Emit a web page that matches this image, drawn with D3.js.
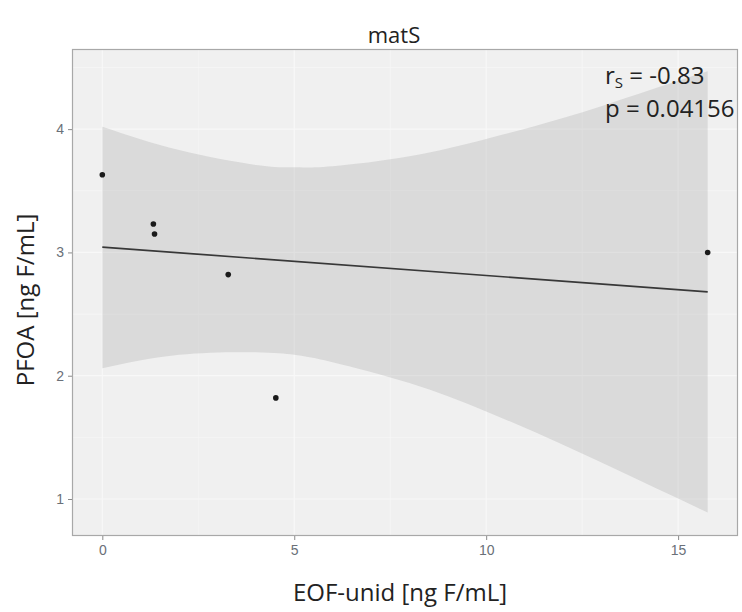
<!DOCTYPE html>
<html>
<head>
<meta charset="utf-8">
<script src="https://cdn.jsdelivr.net/npm/d3@7"></script>
<style>
  html, body { margin: 0; padding: 0; background: #ffffff; }
  svg { display: block; }
</style>
</head>
<body>
<svg id="chart" width="742" height="612"></svg>
<script>
// ---- data ----
const titleText = "matS";
const xLabel = "EOF-unid [ng F/mL]";
const yLabel = "PFOA [ng F/mL]";
const pointX = [0, 1.33, 1.36, 3.28, 4.52, 15.77];
const pointY = [3.63, 3.23, 3.15, 2.82, 1.82, 3.0];
const fitX = [0, 15.77];
const fitY = [3.043, 2.68];
const bandX = [0, 2, 4, 5, 6, 8, 10, 12, 14, 15.77];
const bandUpper = [4.02, 3.83, 3.71, 3.69, 3.70, 3.78, 3.92, 4.09, 4.29, 4.47];
const bandLower = [2.06, 2.17, 2.19, 2.17, 2.11, 1.94, 1.71, 1.44, 1.15, 0.89];
const xTicks = [0, 5, 10, 15];
const yTicks = [1, 2, 3, 4];
const xMinor = [2.5, 7.5, 12.5];
const yMinor = [1.5, 2.5, 3.5, 4.5];
const statLines = ["-0.83", "0.04156"];

// ---- layout ----
const svg = d3.select("#chart");
const panel = { left: 72, right: 738, top: 49, bottom: 536 };

const x = d3.scaleLinear().domain([-0.79, 16.56]).range([panel.left, panel.right]);
const y = d3.scaleLinear().domain([0.70, 4.65]).range([panel.bottom, panel.top]);

// panel background
svg.append("rect")
  .attr("x", panel.left).attr("y", panel.top)
  .attr("width", panel.right - panel.left).attr("height", panel.bottom - panel.top)
  .attr("fill", "#f0f0f0");

// grid
const grid = svg.append("g");
grid.selectAll("line.vmin").data(xMinor).join("line")
  .attr("x1", d => x(d)).attr("x2", d => x(d))
  .attr("y1", panel.top).attr("y2", panel.bottom)
  .attr("stroke", "#f6f6f6").attr("stroke-width", 0.8);
grid.selectAll("line.hmin").data(yMinor).join("line")
  .attr("y1", d => y(d)).attr("y2", d => y(d))
  .attr("x1", panel.left).attr("x2", panel.right)
  .attr("stroke", "#f6f6f6").attr("stroke-width", 0.8);
grid.selectAll("line.vmaj").data(xTicks).join("line")
  .attr("x1", d => x(d)).attr("x2", d => x(d))
  .attr("y1", panel.top).attr("y2", panel.bottom)
  .attr("stroke", "#f8f8f8").attr("stroke-width", 1.2);
grid.selectAll("line.hmaj").data(yTicks).join("line")
  .attr("y1", d => y(d)).attr("y2", d => y(d))
  .attr("x1", panel.left).attr("x2", panel.right)
  .attr("stroke", "#f8f8f8").attr("stroke-width", 1.2);

// confidence band
const bandData = bandX.map((d, i) => ({ x: d, lo: bandLower[i], hi: bandUpper[i] }));
const area = d3.area()
  .x(d => x(d.x)).y0(d => y(d.lo)).y1(d => y(d.hi))
  .curve(d3.curveNatural);
svg.append("path").datum(bandData)
  .attr("d", area)
  .attr("fill", "#9a9a9a").attr("fill-opacity", 0.26);

// fit line
const fitData = fitX.map((d, i) => ({ x: d, y: fitY[i] }));
svg.append("path").datum(fitData)
  .attr("d", d3.line().x(d => x(d.x)).y(d => y(d.y)))
  .attr("fill", "none").attr("stroke", "#383838").attr("stroke-width", 1.7);

// points
const pts = pointX.map((d, i) => ({ x: d, y: pointY[i] }));
svg.selectAll("circle.pt").data(pts).join("circle")
  .attr("cx", d => x(d.x)).attr("cy", d => y(d.y)).attr("r", 2.8)
  .attr("fill", "#1a1a1a");

// panel border
svg.append("rect")
  .attr("x", panel.left + 0.5).attr("y", panel.top + 0.5)
  .attr("width", panel.right - panel.left - 1).attr("height", panel.bottom - panel.top - 1)
  .attr("fill", "none").attr("stroke", "#a8a8a8").attr("stroke-width", 1.2);

// axes
const xAxis = d3.axisBottom(x).tickValues(xTicks).tickSize(4).tickPadding(5).tickFormat(d3.format("d"));
const yAxis = d3.axisLeft(y).tickValues(yTicks).tickSize(4).tickPadding(4).tickFormat(d3.format("d"));
const gx = svg.append("g").attr("transform", `translate(0,${panel.bottom})`).call(xAxis);
const gy = svg.append("g").attr("transform", `translate(${panel.left},0)`).call(yAxis);
[gx, gy].forEach(g => {
  g.select(".domain").remove();
  g.selectAll(".tick line").attr("stroke", "#8a8a8a");
  g.selectAll(".tick text")
    .attr("fill", "#6a7078")
    .style("font-family", "'Liberation Sans', Arial, sans-serif")
    .style("font-size", "14px");
});

const font = "'Open Sans', 'Noto Sans', sans-serif";

// title
svg.append("text")
  .attr("x", 394).attr("y", 43)
  .attr("text-anchor", "middle")
  .style("font-family", font).style("font-size", "22px").attr("fill", "#222")
  .text(titleText);

// axis titles
svg.append("text")
  .attr("x", 400).attr("y", 601)
  .attr("text-anchor", "middle")
  .style("font-family", font).style("font-size", "24px").attr("fill", "#222")
  .text(xLabel);

svg.append("text")
  .attr("transform", `translate(34,300) rotate(-90)`)
  .attr("text-anchor", "middle")
  .style("font-family", font).style("font-size", "24px").attr("fill", "#222")
  .text(yLabel);

// stats annotation
const st = svg.append("g").style("font-family", font).attr("fill", "#222");
const t1 = st.append("text").attr("x", 605).attr("y", 84).style("font-size", "24px");
t1.append("tspan").text("r");
t1.append("tspan").attr("dy", 4).style("font-size", "15px").text("S");
t1.append("tspan").attr("dy", -4).text(" = " + statLines[0]);
st.append("text").attr("x", 605).attr("y", 117).style("font-size", "24px")
  .text("p = " + statLines[1]);
</script>
</body>
</html>
